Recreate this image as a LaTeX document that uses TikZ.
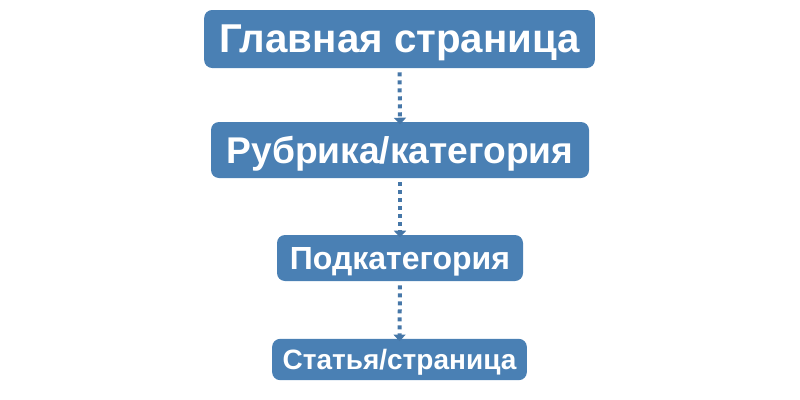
\documentclass[tikz,border=0pt]{standalone}
\usepackage{fontspec}
\setmainfont{Liberation Sans}
\usetikzlibrary{arrows.meta}
\definecolor{boxblue}{HTML}{4A80B4}
\definecolor{linkblue}{HTML}{4677A8}
\tikzset{
  pagebox/.style={fill=boxblue, rounded corners=6pt, text=white, font=\bfseries, inner sep=0pt, anchor=center, text depth=0pt},
  link/.style={draw=linkblue, line width=3pt, dash pattern=on 3pt off 3pt, -{Triangle[width=9pt,length=5pt]}, shorten <=3pt, shorten >=-2pt}
}
\begin{document}
\begin{tikzpicture}[x=0.75pt,y=-0.75pt]
\useasboundingbox (0,0) rectangle (800,400);
\node[pagebox, minimum width=293pt, minimum height=43.5pt, font=\bfseries\fontsize{30.2}{32}\selectfont] (a) at (399.5,39) {Главная страница};
\node[pagebox, minimum width=283.5pt, minimum height=42pt, font=\bfseries\fontsize{27.9}{30}\selectfont] (b) at (400,150) {Рубрика/категория};
\node[pagebox, minimum width=184.5pt, minimum height=34.5pt, font=\bfseries\fontsize{24}{26}\selectfont] (c) at (400,258) {Подкатегория};
\node[pagebox, minimum width=191pt, minimum height=31pt, font=\bfseries\fontsize{21}{23}\selectfont] (d) at (399.5,359.5) {Статья/страница};
\draw[link] (a.south) -- (b.north);
\draw[link] (b.south) -- (c.north);
\draw[link] (c.south) -- (d.north);
\end{tikzpicture}
\end{document}
